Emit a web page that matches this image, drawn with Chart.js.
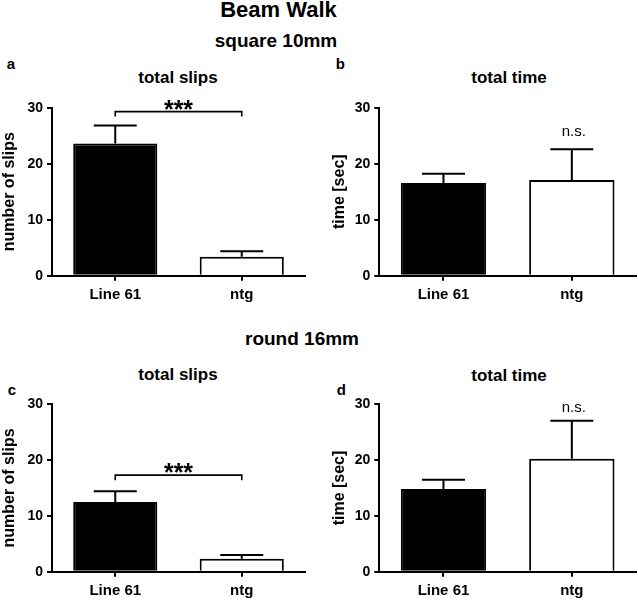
<!DOCTYPE html>
<html>
<head>
<meta charset="utf-8">
<script src="https://cdn.jsdelivr.net/npm/chart.js@4"></script>
<style>
  body { margin: 0; background: #fff; width: 638px; height: 601px; position: relative; overflow: hidden;
         font-family: "Liberation Sans", Arial, sans-serif; }
  .t { position: absolute; font-weight: bold; line-height: 1; white-space: nowrap; color: #000; }
  .c { width: 400px; text-align: center; }
  canvas { position: absolute; }
</style>
</head>
<body>
<div class="t c" style="left:78.5px;top:-0.6px;font-size:22px">Beam Walk</div>
<div class="t c" style="left:76px;top:30.6px;font-size:19px">square 10mm</div>
<div class="t c" style="left:102px;top:328.9px;font-size:19px">round 16mm</div>

<div class="t" style="left:6.8px;top:55.6px;font-size:15px">a</div>
<div class="t" style="left:335.7px;top:55.6px;font-size:15px">b</div>
<div class="t" style="left:7.8px;top:382.3px;font-size:15px">c</div>
<div class="t" style="left:336.8px;top:382.3px;font-size:15px">d</div>

<div class="t c" style="left:-22px;top:68.9px;font-size:17px">total slips</div>
<div class="t c" style="left:309px;top:68.9px;font-size:17px">total time</div>
<div class="t c" style="left:-22px;top:366.3px;font-size:17px">total slips</div>
<div class="t c" style="left:309px;top:366.6px;font-size:17px">total time</div>

<canvas id="pa"></canvas>
<canvas id="pb"></canvas>
<canvas id="pc"></canvas>
<canvas id="pd"></canvas>

<script>
const categories = ["Line 61", "ntg"];

// square 10mm
const slipsSquare = [23.6, 3.4];
const slipsSquareSem = [3.2, 0.95];
const timeSquare = [16.55, 17.1];
const timeSquareSem = [1.65, 5.5];

// round 16mm
const slipsRound = [12.5, 2.3];
const slipsRoundSem = [1.9, 0.7];
const timeRound = [14.8, 20.25];
const timeRoundSem = [1.7, 6.8];

const yTicks = [0, 10, 20, 30];

Chart.defaults.font.family = '"Liberation Sans", Arial, sans-serif';
Chart.defaults.color = "#000";

const panels = [
  { id: "pa", values: slipsSquare, sem: slipsSquareSem, yTitle: "number of slips", mark: "***", markAt: 29.3,
    box: { left: 0, top: 90, w: 310, h: 220, yw: 52, xh: 34.3, pt: 17.7, pr: 5, tpad: 0 } },
  { id: "pb", values: timeSquare, sem: timeSquareSem, yTitle: "time [sec]", mark: "n.s.", markAt: 24.9,
    box: { left: 328, top: 90, w: 310, h: 220, yw: 51.3, xh: 34.3, pt: 17.7, pr: 2, tpad: 2 } },
  { id: "pc", values: slipsRound, sem: slipsRoundSem, yTitle: "number of slips", mark: "***", markAt: 17.3,
    box: { left: 0, top: 386, w: 310, h: 215, yw: 52, xh: 29.3, pt: 18.3, pr: 5, tpad: 0 } },
  { id: "pd", values: timeRound, sem: timeRoundSem, yTitle: "time [sec]", mark: "n.s.", markAt: 28.7,
    box: { left: 328, top: 386, w: 310, h: 215, yw: 51.3, xh: 29.3, pt: 18.3, pr: 2, tpad: 2 } },
];

function overlay(p) {
  return {
    id: "overlay_" + p.id,
    afterDatasetsDraw(chart) {
      const { ctx } = chart;
      const y = chart.scales.y;
      const bars = chart.getDatasetMeta(0).data;
      ctx.save();
      ctx.strokeStyle = "#000";
      ctx.fillStyle = "#000";
      ctx.lineWidth = 2;
      bars.forEach((bar, i) => {
        const base = y.getPixelForValue(p.values[i]);
        const top = y.getPixelForValue(p.values[i] + p.sem[i]);
        ctx.beginPath();
        ctx.moveTo(bar.x, base);
        ctx.lineTo(bar.x, top);
        ctx.moveTo(bar.x - 21.5, top);
        ctx.lineTo(bar.x + 21.5, top);
        ctx.stroke();
      });
      const yb = y.getPixelForValue(p.markAt);
      if (p.mark === "***") {
        const x0 = bars[0].x, x1 = bars[1].x;
        ctx.lineWidth = 1.6;
        ctx.beginPath();
        ctx.moveTo(x0, yb + 5);
        ctx.lineTo(x0, yb);
        ctx.lineTo(x1, yb);
        ctx.lineTo(x1, yb + 5);
        ctx.stroke();
        ctx.font = 'bold 25px "Liberation Sans", Arial, sans-serif';
        ctx.textAlign = "center";
        ctx.textBaseline = "alphabetic";
        ctx.fillText("***", (x0 + x1) / 2, yb + 6);
      } else {
        ctx.font = '15px "Liberation Sans", Arial, sans-serif';
        ctx.textAlign = "center";
        ctx.textBaseline = "alphabetic";
        ctx.fillText(p.mark, bars[1].x + 2, yb);
      }
      ctx.restore();
    },
  };
}

for (const p of panels) {
  const b = p.box;
  const cv = document.getElementById(p.id);
  cv.style.left = b.left + "px";
  cv.style.top = b.top + "px";
  cv.style.width = b.w + "px";
  cv.style.height = b.h + "px";
  cv.width = b.w;
  cv.height = b.h;

  new Chart(cv, {
    type: "bar",
    data: {
      labels: categories,
      datasets: [{
        data: p.values,
        backgroundColor: ["#000", "#fff"],
        borderColor: "#000",
        borderWidth: 2,
        borderSkipped: "bottom",
        barPercentage: 0.665,
        categoryPercentage: 1,
      }],
    },
    options: {
      responsive: false,
      animation: false,
      devicePixelRatio: 1,
      layout: { padding: { top: b.pt, right: b.pr, left: 0, bottom: 0 } },
      plugins: { legend: { display: false }, tooltip: { enabled: false }, title: { display: false } },
      scales: {
        x: {
          offset: true,
          grid: { display: true, drawOnChartArea: false, offset: false, tickLength: 5, color: "#000", lineWidth: 2 },
          border: { display: true, color: "#000", width: 2 },
          ticks: { font: { size: 15, weight: "bold" }, padding: 5, color: "#000" },
          afterFit: (s) => { s.height = b.xh; },
        },
        y: {
          min: 0,
          max: 30,
          afterBuildTicks: (s) => { s.ticks = yTicks.map((v) => ({ value: v })); },
          grid: { display: true, drawOnChartArea: false, tickLength: 5, color: "#000", lineWidth: 2 },
          border: { display: true, color: "#000", width: 2 },
          ticks: { font: { size: 14, weight: "bold" }, padding: 4, color: "#000" },
          title: { display: true, text: p.yTitle, font: { size: 16, weight: "bold" }, color: "#000",
                   padding: { top: b.tpad, bottom: 0 } },
          afterFit: (s) => { s.width = b.yw; },
        },
      },
    },
    plugins: [overlay(p)],
  });
}
</script>
</body>
</html>
